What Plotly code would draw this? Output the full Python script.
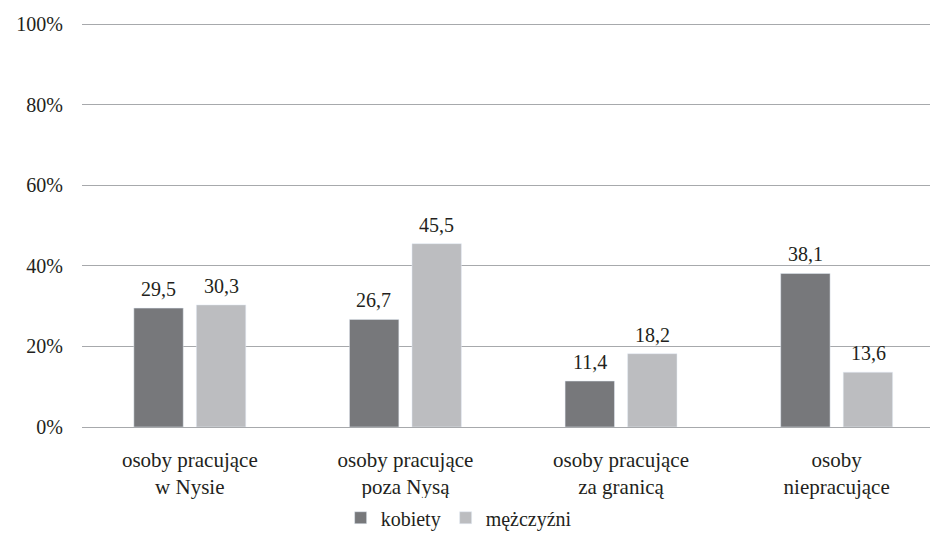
import plotly.graph_objects as go

categories = ["osoby pracujące<br>w Nysie", "osoby pracujące<br>poza Nysą",
              "osoby pracujące<br>za granicą", "osoby<br>niepracujące"]
kobiety = [29.5, 26.7, 11.4, 38.1]
mezczyzni = [30.3, 45.5, 18.2, 13.6]
series_names = ["kobiety", "mężczyźni"]
y_tickvals = [0, 20, 40, 60, 80, 100]
y_ticktext = ["0%", "20%", "40%", "60%", "80%", "100%"]

font_family = "Liberation Serif, Times New Roman, Tinos, serif"
text_color = "#231f20"

fig = go.Figure()
fig.add_trace(go.Bar(x=categories, y=kobiety, name=series_names[0],
                     marker_color="#77787b"))
fig.add_trace(go.Bar(x=categories, y=mezczyzni, name=series_names[1],
                     marker_color="#bcbdc0"))

# value labels, placed at the data coordinates of each bar
for series, shift in ((kobiety, -31.5), (mezczyzni, 31.5)):
    for cat, val in zip(categories, series):
        fig.add_annotation(x=cat, y=val, text=f"{val:.1f}".replace(".", ","),
                           showarrow=False, xanchor="center", yanchor="bottom",
                           xshift=shift, yshift=6,
                           font=dict(family=font_family, size=20, color=text_color))

fig.update_layout(
    width=930, height=537,
    margin=dict(l=74, r=0, t=12, b=118, autoexpand=False),
    paper_bgcolor="white", plot_bgcolor="white",
    separators=", ",
    barmode="group", bargap=0.42, bargroupgap=0.21,
    font=dict(family=font_family, size=20, color=text_color),
    showlegend=True,
    legend=dict(orientation="h", x=0.44, xanchor="center", y=-0.175, yanchor="top",
                font=dict(family=font_family, size=20), traceorder="normal"),
)
fig.update_xaxes(type="category", range=[-0.5, 3.47], showgrid=False,
                 showline=False, ticks="", ticklabelstandoff=18,
                 tickfont=dict(family=font_family, size=21))
fig.update_yaxes(range=[0, 101], tickvals=y_tickvals, ticktext=y_ticktext,
                 showgrid=True, gridcolor="#a7a9ac", gridwidth=1.3, zeroline=True,
                 zerolinecolor="#a7a9ac", zerolinewidth=1.3, showline=False,
                 ticks="", tickfont=dict(family=font_family, size=20),
                 ticklabelstandoff=18)

fig.write_html("out.html")
